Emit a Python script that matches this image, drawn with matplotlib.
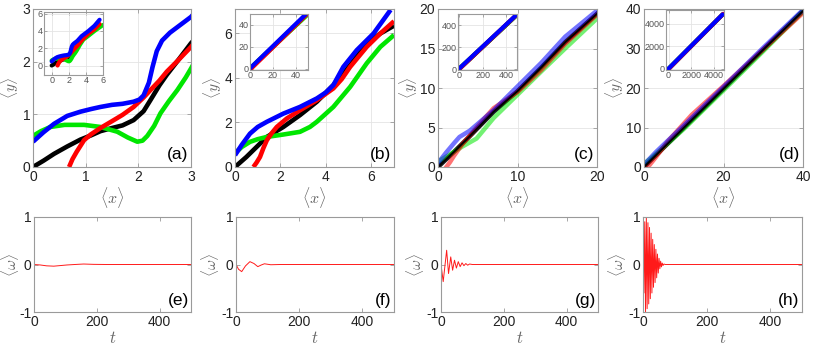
import matplotlib
matplotlib.use("Agg")
import matplotlib.pyplot as plt

plt.rcParams["font.family"] = ["Liberation Sans", "DejaVu Sans"]
plt.rcParams["mathtext.fontset"] = "cm"
plt.rcParams["axes.unicode_minus"] = False

# ---- panel (a): <x>, <y> trajectories (inset shows the same curves further out)
a_black_x = [0, 0.2, 0.4, 0.65, 0.9, 1.1, 1.28, 1.5, 1.7, 1.91, 2.1, 2.23, 2.4, 2.54, 2.75, 3.0, 3.5, 4.3, 5.0, 5.5]
a_black_y = [0, 0.12, 0.25, 0.39, 0.52, 0.6, 0.68, 0.74, 0.79, 0.89, 1.06, 1.27, 1.55, 1.75, 2.02, 2.35, 2.9, 3.7, 4.3, 4.8]
a_red_x = [0.685, 0.75, 0.83, 0.97, 1.1, 1.28, 1.5, 1.7, 1.91, 2.1, 2.23, 2.4, 2.54, 2.75, 3.0, 3.5, 4.3, 5.0, 5.6]
a_red_y = [0, 0.15, 0.29, 0.51, 0.62, 0.74, 0.87, 0.99, 1.14, 1.32, 1.46, 1.64, 1.81, 2.02, 2.28, 2.9, 3.7, 4.2, 4.8]
a_blue_x = [0, 0.2, 0.4, 0.65, 0.9, 1.1, 1.28, 1.5, 1.7, 1.91, 2.02, 2.1, 2.2, 2.27, 2.35, 2.45, 2.6, 2.8, 3.0, 3.5, 4.3, 5.0, 5.6]
a_blue_y = [0.48, 0.66, 0.82, 0.97, 1.05, 1.1, 1.14, 1.18, 1.2, 1.24, 1.28, 1.36, 1.6, 1.9, 2.2, 2.4, 2.55, 2.7, 2.85, 3.4, 4.0, 4.6, 5.3]
a_green_x = [0, 0.15, 0.33, 0.6, 0.97, 1.28, 1.6, 1.8, 1.98, 2.08, 2.17, 2.3, 2.42, 2.58, 2.74, 2.9, 3.0, 3.3, 3.7, 4.3, 5.0, 6.0]
a_green_y = [0.59, 0.68, 0.76, 0.8, 0.8, 0.76, 0.67, 0.56, 0.48, 0.5, 0.59, 0.78, 1.02, 1.25, 1.46, 1.7, 1.87, 2.4, 3.0, 3.45, 4.0, 4.7]

# ---- panel (b)
b_black_x = [0, 0.5, 1.0, 1.4, 2.13, 2.86, 3.6, 4.33, 5.07, 5.8, 6.4, 7.0]
b_black_y = [0, 0.45, 0.95, 1.35, 1.8, 2.33, 2.93, 3.68, 4.58, 5.56, 6.0, 6.35]
b_red_x = [0.81, 0.95, 1.1, 1.25, 1.4, 1.6, 1.84, 2.28, 2.86, 3.6, 4.33, 4.7, 5.07, 5.8, 6.4, 7.0]
b_red_y = [0, 0.2, 0.45, 0.85, 1.2, 1.5, 1.8, 2.18, 2.55, 3.0, 3.53, 3.95, 4.5, 5.4, 6.0, 6.55]
b_blue_x = [0, 0.3, 0.66, 1.0, 1.4, 2.13, 2.86, 3.6, 4.0, 4.33, 4.77, 5.36, 6.1, 6.85]
b_blue_y = [0.53, 1.0, 1.5, 1.8, 2.03, 2.4, 2.7, 3.08, 3.35, 3.68, 4.5, 5.25, 6.0, 7.06]
b_green_x = [0, 0.3, 0.66, 1.0, 1.4, 2.13, 2.86, 3.3, 3.6, 4.33, 5.07, 5.8, 6.4, 7.0]
b_green_y = [0.62, 0.9, 1.13, 1.25, 1.35, 1.46, 1.58, 1.8, 2.03, 2.7, 3.6, 4.66, 5.4, 5.93]
b_in_black = ([0, 49], [0, 49])
b_in_red = ([0.8, 49], [0, 49])
b_in_blue = ([0, 48.5], [0.5, 49.5])
b_in_green = ([0, 49.5], [0.6, 48.5])

# ---- panel (c)
c_black_x = [0, 2, 4, 7, 10, 13, 16, 20]
c_black_y = [0, 1.9, 3.9, 7.0, 9.6, 12.6, 15.8, 19.4]
c_red_x = [1.05, 1.5, 2, 3, 5, 7, 10, 13, 16, 20]
c_red_y = [0, 0.6, 1.4, 2.8, 5.2, 7.45, 9.5, 12.3, 15.6, 19.3]
c_blue_x = [0, 1, 2, 2.7, 4, 7, 10, 13, 16, 20]
c_blue_y = [0.5, 1.8, 3.0, 3.8, 4.6, 7.2, 10.2, 13.2, 16.5, 19.8]
c_green_x = [0, 1.5, 3, 4.85, 7, 10, 13, 16, 20]
c_green_y = [0.7, 1.6, 2.55, 3.6, 6.2, 9.15, 12.1, 15.0, 18.8]
c_in_black = ([0, 478], [0, 480])
c_in_red = ([0, 482], [0, 488])
c_in_blue = ([0, 475], [5, 482])
c_in_green = ([0, 476], [5, 478])

# ---- panel (d)
d_black_x = [0, 10, 20, 30, 40]
d_black_y = [0, 9.9, 19.8, 29.7, 39.5]
d_red_x = [1, 3, 6, 12, 20, 30, 40]
d_red_y = [0, 2.5, 6.5, 13.2, 20.5, 29.8, 39.0]
d_blue_x = [0, 3, 10, 20, 30, 40]
d_blue_y = [0.6, 3.8, 10.5, 20.3, 30.2, 39.8]
d_green_x = [0, 3, 10, 20, 30, 40]
d_green_y = [0.8, 3.3, 9.6, 19.4, 29.3, 39.4]
d_in_black = ([0, 4780], [0, 4860])
d_in_red = ([0, 4820], [0, 4900])
d_in_blue = ([0, 4760], [40, 4850])
d_in_green = ([0, 4770], [40, 4840])

# ---- bottom row: <omega>(t)
e_t = [0, 20, 40, 63, 85, 105, 130, 158, 190, 230, 500]
e_w = [0, -0.01, -0.028, -0.035, -0.022, -0.01, 0.0, 0.01, 0.003, 0, 0]
f_t = [0, 8, 18, 30, 44, 57, 69, 80, 90, 110, 140, 500]
f_w = [0, -0.1, -0.15, -0.03, 0.06, 0.02, -0.045, -0.01, 0.015, -0.005, 0, 0]
g_t = [0, 7, 13, 18, 24, 31, 37, 43, 49, 55, 61, 67, 73, 79, 85, 91, 100, 500]
g_w = [0, -0.36, 0.0, 0.3, -0.19, 0.16, -0.12, 0.09, -0.075, 0.06, -0.045, 0.035, -0.025, 0.02, -0.015, 0.01, 0, 0]
h_t = [0, 3, 5.5, 8, 10.5, 13, 15.5, 18, 20.5, 23, 25.5, 28, 30.5, 33, 35.5, 38, 40.5, 43,
       45.5, 48, 50.5, 53, 55.5, 58, 60.5, 63, 66, 70, 500]
h_w = [0, -0.6, 0.9, -1.0, 1.0, -0.93, 0.88, -0.83, 0.78, -0.72, 0.66, -0.6, 0.53, -0.48, 0.42,
       -0.38, 0.32, -0.28, 0.22, -0.18, 0.13, -0.09, 0.07, -0.05, 0.03, -0.02, 0.01, 0, 0]

GRID = "#e4e4e4"
EDGE = "#9a9a9a"


def style(ax, fs=10):
    ax.tick_params(direction="in", length=3, width=0.6, color=EDGE, labelsize=fs,
                   top=True, right=True, pad=2, labelcolor="#222222")
    for s in ax.spines.values():
        s.set_color(EDGE)
        s.set_linewidth(0.8)
    ax.grid(True, color=GRID, linewidth=0.6)
    ax.set_axisbelow(True)


fig = plt.figure(figsize=(8.14, 3.51), dpi=100)
W, H = 814.0, 351.0


def px_axes(left, top, right, bottom):
    return fig.add_axes([left / W, 1 - bottom / H, (right - left) / W, (bottom - top) / H])


top_panels = [
    ("(a)", (33, 9, 191, 167), (0, 3), (0, 3), [0, 1, 2, 3], [0, 1, 2, 3],
     [(a_black_x, a_black_y), (a_green_x, a_green_y), (a_red_x, a_red_y), (a_blue_x, a_blue_y)]),
    ("(b)", (235, 9, 394, 167), (0, 7), (0, 7.1), [0, 2, 4, 6], [0, 2, 4, 6],
     [(b_black_x, b_black_y), (b_green_x, b_green_y), (b_red_x, b_red_y), (b_blue_x, b_blue_y)]),
    ("(c)", (438, 9, 597, 167), (0, 20), (0, 20), [0, 10, 20], [0, 5, 10, 15, 20],
     [(c_black_x, c_black_y), (c_green_x, c_green_y), (c_red_x, c_red_y), (c_blue_x, c_blue_y)]),
    ("(d)", (644, 9, 803, 167), (0, 40), (0, 40), [0, 20, 40], [0, 10, 20, 30, 40],
     [(d_black_x, d_black_y), (d_green_x, d_green_y), (d_red_x, d_red_y), (d_blue_x, d_blue_y)]),
]
colors = ["black", "#00e600", "#ff0000", "#0000ff"]

insets = [
    ((44, 12, 103, 75), (-0.9, 6), (-1.1, 6.2), [0, 2, 4, 6], [0, 2, 4, 6],
     [(a_black_x, a_black_y), (a_green_x, a_green_y), (a_red_x, a_red_y), (a_blue_x, a_blue_y)]),
    ((250, 14, 308, 70), (0, 50.7), (-1, 50), [0, 20, 40], [0, 20, 40],
     [b_in_black, b_in_green, b_in_red, b_in_blue]),
    ((458, 14, 517, 70), (-10, 490), (-8, 500), [0, 200, 400], [0, 200, 400],
     [c_in_black, c_in_green, c_in_red, c_in_blue]),
    ((666, 10, 724, 70), (-230, 4880), (-90, 5240), [0, 2000, 4000], [0, 2000, 4000],
     [d_in_black, d_in_green, d_in_red, d_in_blue]),
]

for i, (lab, box, xl, yl, xt, yt, curves) in enumerate(top_panels):
    ax = px_axes(*box)
    style(ax)
    for (xs, ys), c in zip(curves, colors):
        if i < 2:
            ax.plot(xs, ys, color=c, lw=3.3, solid_capstyle="butt")
        else:
            ax.plot(xs, ys, color=c, lw=3.2, alpha=0.55 if c != "black" else 0.9)
    if i >= 2:
        ax.plot(curves[0][0], curves[0][1], color="black", lw=1.4)
    ax.set_xlim(*xl)
    ax.set_ylim(*yl)
    ax.set_xticks(xt)
    ax.set_yticks(yt)
    ax.set_xlabel(r"$\langle x\rangle$", fontsize=11.5, color="#666666", labelpad=1)
    ax.set_ylabel(r"$\langle y\rangle$", fontsize=11, color="#666666", labelpad=0)
    if i == 0:
        ax.yaxis.set_label_coords(-0.075, 0.5)
    ax.text(0.985, 0.03, lab, transform=ax.transAxes, ha="right", va="bottom", fontsize=12.5)

for box, xl, yl, xt, yt, curves in insets:
    ia = px_axes(*box)
    style(ia, fs=6.5)
    ia.tick_params(length=2, pad=1, labelcolor="#555555")
    for (xs, ys), c in zip(curves, colors):
        ia.plot(xs, ys, color=c, lw=3.0, solid_capstyle="round")
    ia.set_xlim(*xl)
    ia.set_ylim(*yl)
    ia.set_xticks(xt)
    ia.set_yticks(yt)

bottom_panels = [
    ("(e)", (34, 217, 191, 312), e_t, e_w),
    ("(f)", (236, 217, 394, 312), f_t, f_w),
    ("(g)", (441, 217, 598, 312), g_t, g_w),
    ("(h)", (643, 217, 802, 312), h_t, h_w),
]
for j, (lab, box, ts, ws) in enumerate(bottom_panels):
    ax = px_axes(*box)
    style(ax)
    ax.grid(False)
    ax.plot(ts, ws, color="#ff1a1a", lw=0.7)
    ax.set_xlim(0, 500)
    ax.set_ylim(-1, 1)
    ax.set_xticks([0, 200, 400])
    ax.set_yticks([-1, 0, 1])
    ax.set_xlabel(r"$t$", fontsize=12, color="#666666", labelpad=1)
    ax.set_ylabel(r"$\langle \omega\rangle$", fontsize=11, color="#666666", labelpad=0)
    if j == 0:
        ax.yaxis.set_label_coords(-0.085, 0.5)
    ax.text(0.985, 0.04, lab, transform=ax.transAxes, ha="right", va="bottom", fontsize=12.5)

fig.savefig("out.png", dpi=100)
